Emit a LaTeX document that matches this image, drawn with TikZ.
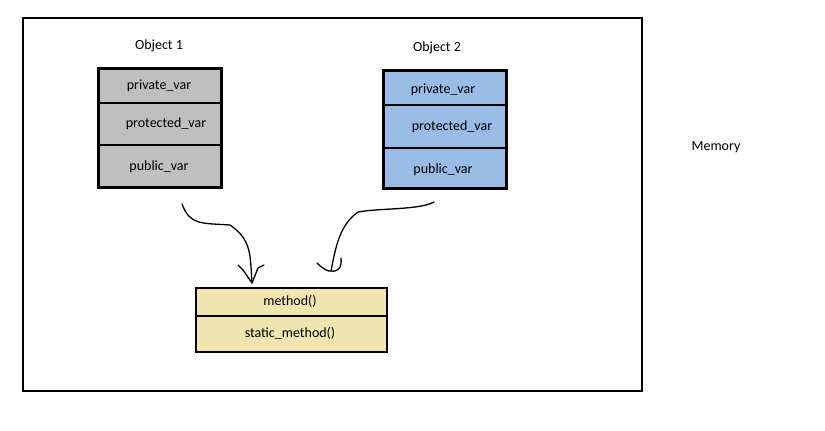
\documentclass[tikz,border=0pt]{standalone}
\usepackage{fontspec}
\setmainfont{Carlito}
\begin{document}
\begin{tikzpicture}[x=1pt,y=-1pt,
  box/.style={draw=black,line width=2.5pt},
  lbl/.style={font=\fontsize{14}{16}\selectfont},
  arr/.style={line width=1.3pt,line cap=round,line join=round}]
\useasboundingbox (0,0) rectangle (825,431);
\node[draw,line width=2pt,minimum width=619pt,minimum height=373pt,inner sep=0pt,anchor=north west] (mem) at (22,17) {};
\node[lbl] (memt) at (716,147) {Memory};
% Object 1
\node[lbl] (o1t) at (159,46) {Object 1};
\node[box,fill=gray!50,minimum width=123pt,minimum height=119pt,inner sep=0pt,anchor=north west] (o1) at (97,67) {};
\draw[line width=1.2pt] (97,103) -- (220,103);
\draw[line width=1.2pt] (97,145) -- (220,145);
\node[lbl] (o1a) at (159,86) {private\_var};
\node[lbl] (o1b) at (166,124) {protected\_var};
\node[lbl] (o1c) at (159,167) {public\_var};
% Object 2
\node[lbl] (o2t) at (437,48) {Object 2};
\node[box,fill={rgb,255:red,153;green,187;blue,230},minimum width=123pt,minimum height=118pt,inner sep=0pt,anchor=north west] (o2) at (382,69) {};
\draw[line width=1.2pt] (382,105) -- (505,105);
\draw[line width=1.2pt] (382,148) -- (505,148);
\node[lbl] (o2a) at (443,90) {private\_var};
\node[lbl] (o2b) at (452,127) {protected\_var};
\node[lbl] (o2c) at (443,170) {public\_var};
% methods
\node[box,line width=2pt,fill={rgb,255:red,240;green,228;blue,175},minimum width=191pt,minimum height=64pt,inner sep=0pt,anchor=north west] (m) at (195,287) {};
\draw[line width=1.5pt] (195,316) -- (386,316);
\node[lbl] (ma) at (290,301) {method()};
\node[lbl] (mb) at (290,333) {static\_method()};
% arrows
\coordinate (s1) at (182,204);
\coordinate (e1) at (252,283);
\coordinate (s2) at (434,202);
\coordinate (e2) at (331,271);
\draw[arr] (s1) .. controls (190,225) and (200,223) .. (230,225)
  .. controls (252,240) and (250,255) .. (e1);
\draw[arr] (238,265) -- (243,270) -- (e1) -- (258,268) -- (264,265);
\draw[arr] (s2) .. controls (420,210) and (380,208) .. (358,212)
  .. controls (340,225) and (336,245) .. (e2);
\draw[arr] (317,263) .. controls (322,268) and (328,272) .. (e2) .. controls (338,272) and (342,268) .. (341,258);
\end{tikzpicture}
\end{document}
